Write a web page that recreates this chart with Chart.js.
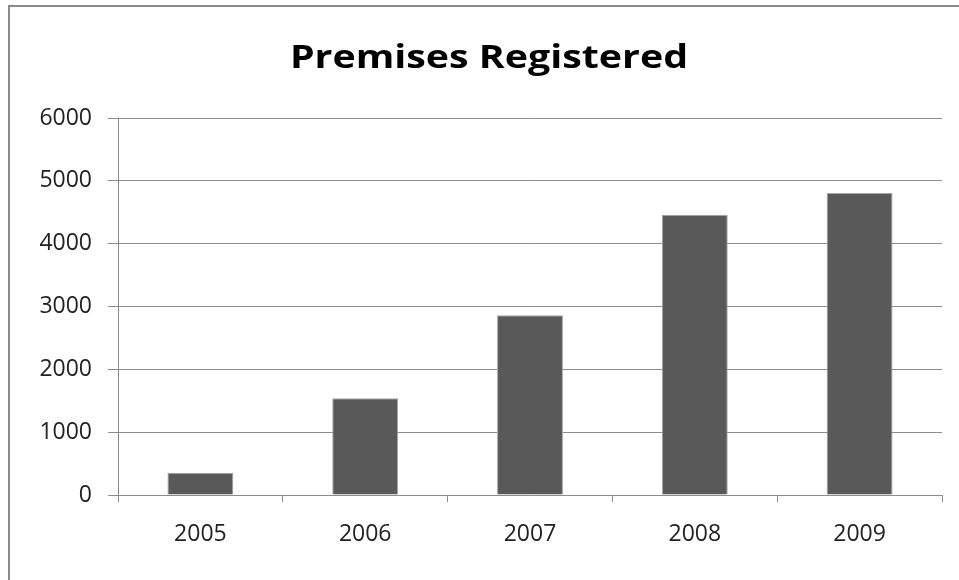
<!DOCTYPE html>
<html>
<head>
<meta charset="utf-8">
<script src="https://cdn.jsdelivr.net/npm/chart.js@4.4.1/dist/chart.umd.min.js"></script>
<style>
  html, body { margin: 0; padding: 0; background: #fff; overflow: hidden; }
  #frame {
    position: absolute; left: 8px; top: 5px; width: 1000px; height: 700px;
    border: 2px solid #8a8a8a; box-sizing: border-box;
  }
  #title {
    position: absolute; left: 489px; top: 33px; white-space: nowrap;
    font-family: "Open Sans", sans-serif; font-weight: bold; font-size: 33px;
    color: #000; transform-origin: center top;
  }
  #chart { position: absolute; left: 0; top: 0; }
</style>
</head>
<body>
<div id="frame"></div>
<canvas id="chart" width="959" height="580"></canvas>
<div id="title">Premises Registered</div>
<script>
const years = ['2005', '2006', '2007', '2008', '2009'];
const premises = [355, 1540, 2860, 4460, 4805];
const yTicks = [0, 1000, 2000, 3000, 4000, 5000, 6000];

// stretch the heading so it spans the same width as the old spreadsheet title
const title = document.getElementById('title');
const w = title.offsetWidth;
title.style.transform = 'translateX(-50%) scaleX(' + (398 / w) + ')';

const gridGray = '#8c8c8c';
const tickFont = { family: '"Open Sans", sans-serif', size: 23 };

const ctx = document.getElementById('chart').getContext('2d');
const chart = new Chart(ctx, {
  type: 'bar',
  data: {
    labels: years,
    datasets: [{
      label: 'Premises',
      data: premises,
      backgroundColor: '#595959',
      borderColor: '#a6a6a6',
      borderWidth: 1,
      barPercentage: 0.4,
      categoryPercentage: 1.0
    }]
  },
  options: {
    responsive: false,
    animation: false,
    layout: { padding: { top: 118, right: 17, left: 0, bottom: 0 } },
    plugins: { legend: { display: false }, tooltip: { enabled: false } },
    scales: {
      x: {
        offset: true,
        grid: { offset: true, drawOnChartArea: false, color: gridGray, tickLength: 7 },
        border: { color: gridGray },
        ticks: { font: tickFont, color: '#222', padding: 19 },
        afterFit: s => { s.height = 85; }
      },
      y: {
        min: 0,
        max: 6000,
        afterBuildTicks: s => { s.ticks = yTicks.map(v => ({ value: v })); },
        grid: { color: gridGray, tickLength: 10 },
        border: { color: gridGray },
        ticks: { font: tickFont, color: '#222', padding: 16, callback: v => String(v) },
        afterFit: s => { s.width = 118; }
      }
    }
  }
});
</script>
</body>
</html>
